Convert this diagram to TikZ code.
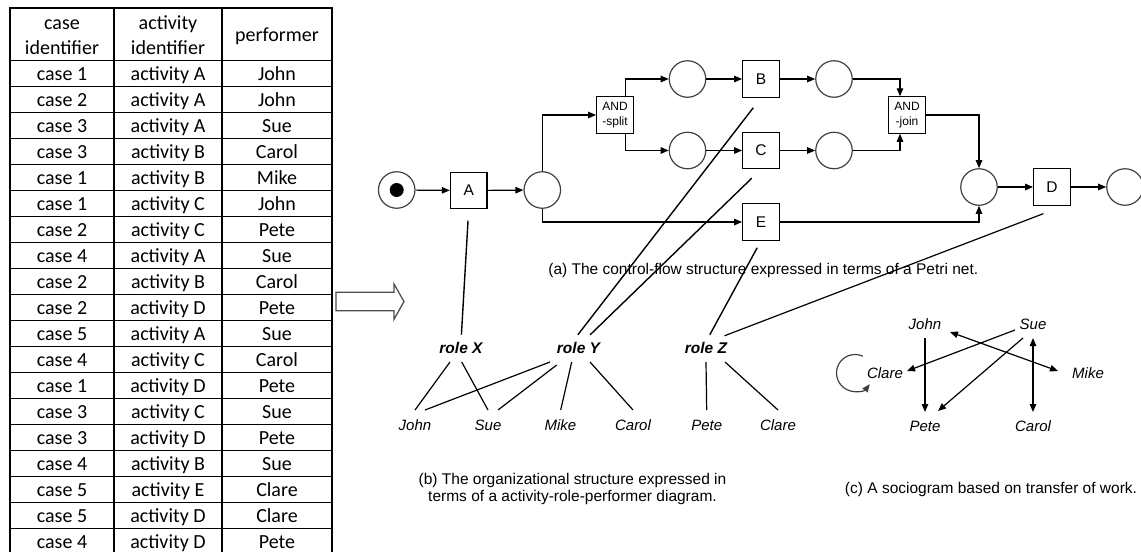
\documentclass[tikz,border=0pt]{standalone}
\usepackage{fontspec}
\setmainfont{Liberation Sans}
\newfontfamily\tablefont{Carlito}
\usetikzlibrary{arrows.meta,calc}

\begin{document}
\begin{tikzpicture}[x=1pt,y=-1pt,
  every node/.style={inner sep=0pt},
  line width=1.2pt,
  arr/.style={-{Triangle[length=8pt,width=6.5pt]}},
  dbl/.style={{Triangle[length=8pt,width=6.5pt]}-{Triangle[length=8pt,width=6.5pt]}},
  place/.style={circle,draw=black!75,minimum size=36.5pt},
  token/.style={circle,fill=black,minimum size=14pt},
  trans/.style={rectangle,draw,minimum width=36.6pt,minimum height=36.3pt,
    font=\fontsize{15.5}{18}\selectfont},
  andbox/.style={trans,align=center,font=\fontsize{12}{15.4}\selectfont},
  cell/.style={anchor=base,font=\tablefont\fontsize{20}{24}\selectfont},
  grid/.style={line width=1.3pt},
  link/.style={line width=1.4pt},
  role/.style={font=\fontsize{15.5}{18}\selectfont\bfseries\itshape},
  person/.style={font=\fontsize{15}{18}\selectfont\itshape},
  caption/.style={font=\fontsize{15.5}{16.5}\selectfont,align=center},
  bigarrow/.style={draw=black!70,line width=1.3pt,fill=white}
]
\useasboundingbox (0,0) rectangle (1141,552);

% ---------------- event log table ----------------
\draw[grid] (10,552) -- (10,8) -- (332,8) -- (332,552);
\foreach \x in {114,222} \draw[grid] (\x,8) -- (\x,552);
\foreach \k [evaluate=\k as \yy using 60.5+26*\k] in {0,...,18}
  \draw[grid] (10,\yy) -- (332,\yy);

\node[cell] (h1a) at (62,29.3) {case};
\node[cell] (h1b) at (62,54.3) {identifier};
\node[cell] (h2a) at (168,29.3) {activity};
\node[cell] (h2b) at (168,54.3) {identifier};
\node[cell] (h3)  at (277,41.7) {performer};

\foreach \k/\c/\a/\p in {
  1/case 1/activity A/John,   2/case 2/activity A/John,
  3/case 3/activity A/Sue,    4/case 3/activity B/Carol,
  5/case 1/activity B/Mike,   6/case 1/activity C/John,
  7/case 2/activity C/Pete,   8/case 4/activity A/Sue,
  9/case 2/activity B/Carol, 10/case 2/activity D/Pete,
 11/case 5/activity A/Sue,   12/case 4/activity C/Carol,
 13/case 1/activity D/Pete,  14/case 3/activity C/Sue,
 15/case 3/activity D/Pete,  16/case 4/activity B/Sue,
 17/case 5/activity E/Clare, 18/case 5/activity D/Clare,
 19/case 4/activity D/Pete}
{
  \node[cell] (r\k c) at (62,{54+26*\k}) {\c};
  \node[cell] (r\k a) at (168,{54+26*\k}) {\a};
  \node[cell] (r\k p) at (277,{54+26*\k}) {\p};
}

% hollow arrow between log and models
\draw[bigarrow] (336,292.3) -- (394,292.3) -- (394,284) -- (404,301.5)
  -- (394,319.3) -- (394,310.7) -- (336,310.7) -- cycle;

% ---------------- (a) Petri net ----------------
\node[place] (start) at (396.7,190) {};
\node[token] (tok) at (start) {};
\node[trans] (A) at (468.7,190.5) {A};
\node[place] (p1) at (542.3,190) {};
\node[andbox] (split) at (615,115) {AND\\-split};
\node[place] (pu) at (687.5,79) {};
\node[place] (pm) at (687.5,150.5) {};
\node[trans] (B) at (761,79) {B};
\node[trans] (C) at (761,150.5) {C};
\node[trans] (E) at (761,222) {E};
\node[place] (pb) at (834,79) {};
\node[place] (pc) at (834,150.5) {};
\node[andbox] (join) at (907,115) {AND\\-join};
\node[place] (pj) at (979,187) {};
\node[trans] (D) at (1052,187) {D};
\node[place] (end) at (1125,187) {};

\draw[arr] (start) -- (A);
\draw[arr] (A) -- (p1);
\draw[arr] (p1.north) |- (split.west);
\draw[arr] (p1.south) |- (E.west);
\draw[arr] ([xshift=10.7pt]split.north) |- (pu.west);
\draw[arr] ([xshift=10.7pt]split.south) |- (pm.west);
\draw[arr] (pu) -- (B);
\draw[arr] (pm) -- (C);
\draw[arr] (B) -- (pb);
\draw[arr] (C) -- (pc);
\draw[arr] (pb.east) -| ([xshift=-7pt]join.north);
\draw[arr] (pc.east) -| ([xshift=-7pt]join.south);
\draw[arr] (join.east) -| (pj.north);
\draw[arr] (E.east) -| (pj.south);
\draw[arr] (pj) -- (D);
\draw[arr] (D) -- (end);

\node[caption] (capa) at (763.3,270.5)
  {(a) The control-flow structure expressed in terms of a Petri net.};

% ---------------- (b) roles and performers ----------------
\node[role] (roleX) at (461,348) {role X};
\node[role] (roleY) at (578.5,348) {role Y};
\node[role] (roleZ) at (706,348) {role Z};

\node[person] (john)  at (415,425) {John};
\node[person] (sue)   at (488,425) {Sue};
\node[person] (mike)  at (560.5,425) {Mike};
\node[person] (carol) at (633,425) {Carol};
\node[person] (pete)  at (706.7,425) {Pete};
\node[person] (clare) at (778,425) {Clare};

\draw[link,shorten <=11.3pt,shorten >=7pt] (A.south) -- (roleX.north);
\draw[link,shorten <=12.6pt,shorten >=8.8pt] (B.south) -- ($(roleY.north)+(-6,0)$);
\draw[link,shorten <=12.9pt,shorten >=10pt] (C.south) -- ($(roleY.north)+(4.5,0)$);
\draw[link,shorten <=8pt,shorten >=8pt] (E.south) -- (roleZ.north);
\draw[line width=1.2pt,shorten <=22pt,shorten >=16.6pt] ([xshift=12pt]D.south) -- ($(roleZ.north)+(3,0)$);

\draw ($(roleX)+(-11,14)$) -- ($(john)+(0,-15)$);
\draw ($(roleX)+(0.7,14)$) -- ($(sue)+(0,-15)$);
\draw ($(roleY)+(-28.5,14)$) -- ($(john)+(10,-15)$);
\draw ($(roleY)+(-21.8,17)$) -- ($(sue)+(10,-15)$);
\draw ($(roleY)+(-6.8,14)$) -- ($(mike)+(0.2,-15)$);
\draw ($(roleY)+(11.5,14)$) -- ($(carol)+(0,-15)$);
\draw ($(roleZ)+(0,14)$) -- ($(pete)+(0,-15)$);
\draw ($(roleZ)+(19,14)$) -- ($(clare)+(0,-15)$);

\node[caption] (capb) at (572.5,489)
  {(b) The organizational structure expressed in\\terms of a activity-role-performer diagram.};

% ---------------- (c) sociogram ----------------
\node[person] (sjohn)  at (925,324) {John};
\node[person] (ssue)   at (1033,324) {Sue};
\node[person] (sclare) at (885,373) {Clare};
\node[person] (smike)  at (1088,373) {Mike};
\node[person] (spete)  at (925,426) {Pete};
\node[person] (scarol) at (1033,426) {Carol};

\draw[arr] ($(sjohn)+(0,14)$) -- ($(spete)+(0,-14)$);
\draw[arr] ($(ssue)+(-18,6)$) -- ($(sclare)+(22,-2)$);
\draw[arr] ($(ssue)+(-10,14)$) -- ($(spete)+(13,-15)$);
\draw[dbl] ($(sjohn)+(25,8)$) -- ($(smike)+(-30,-2)$);
\draw[dbl] ($(ssue)+(0,14)$) -- ($(scarol)+(0,-14)$);
\coordinate (loopc) at ($(sclare)+(-30,0)$);
\draw[arr,draw=black!75] ($(loopc)+(-65:18.5)$) arc[start angle=-65,end angle=-323,radius=18.5];

\node[caption] (capc) at (991,489)
  {(c) A sociogram based on transfer of work.};
\end{tikzpicture}
\end{document}
